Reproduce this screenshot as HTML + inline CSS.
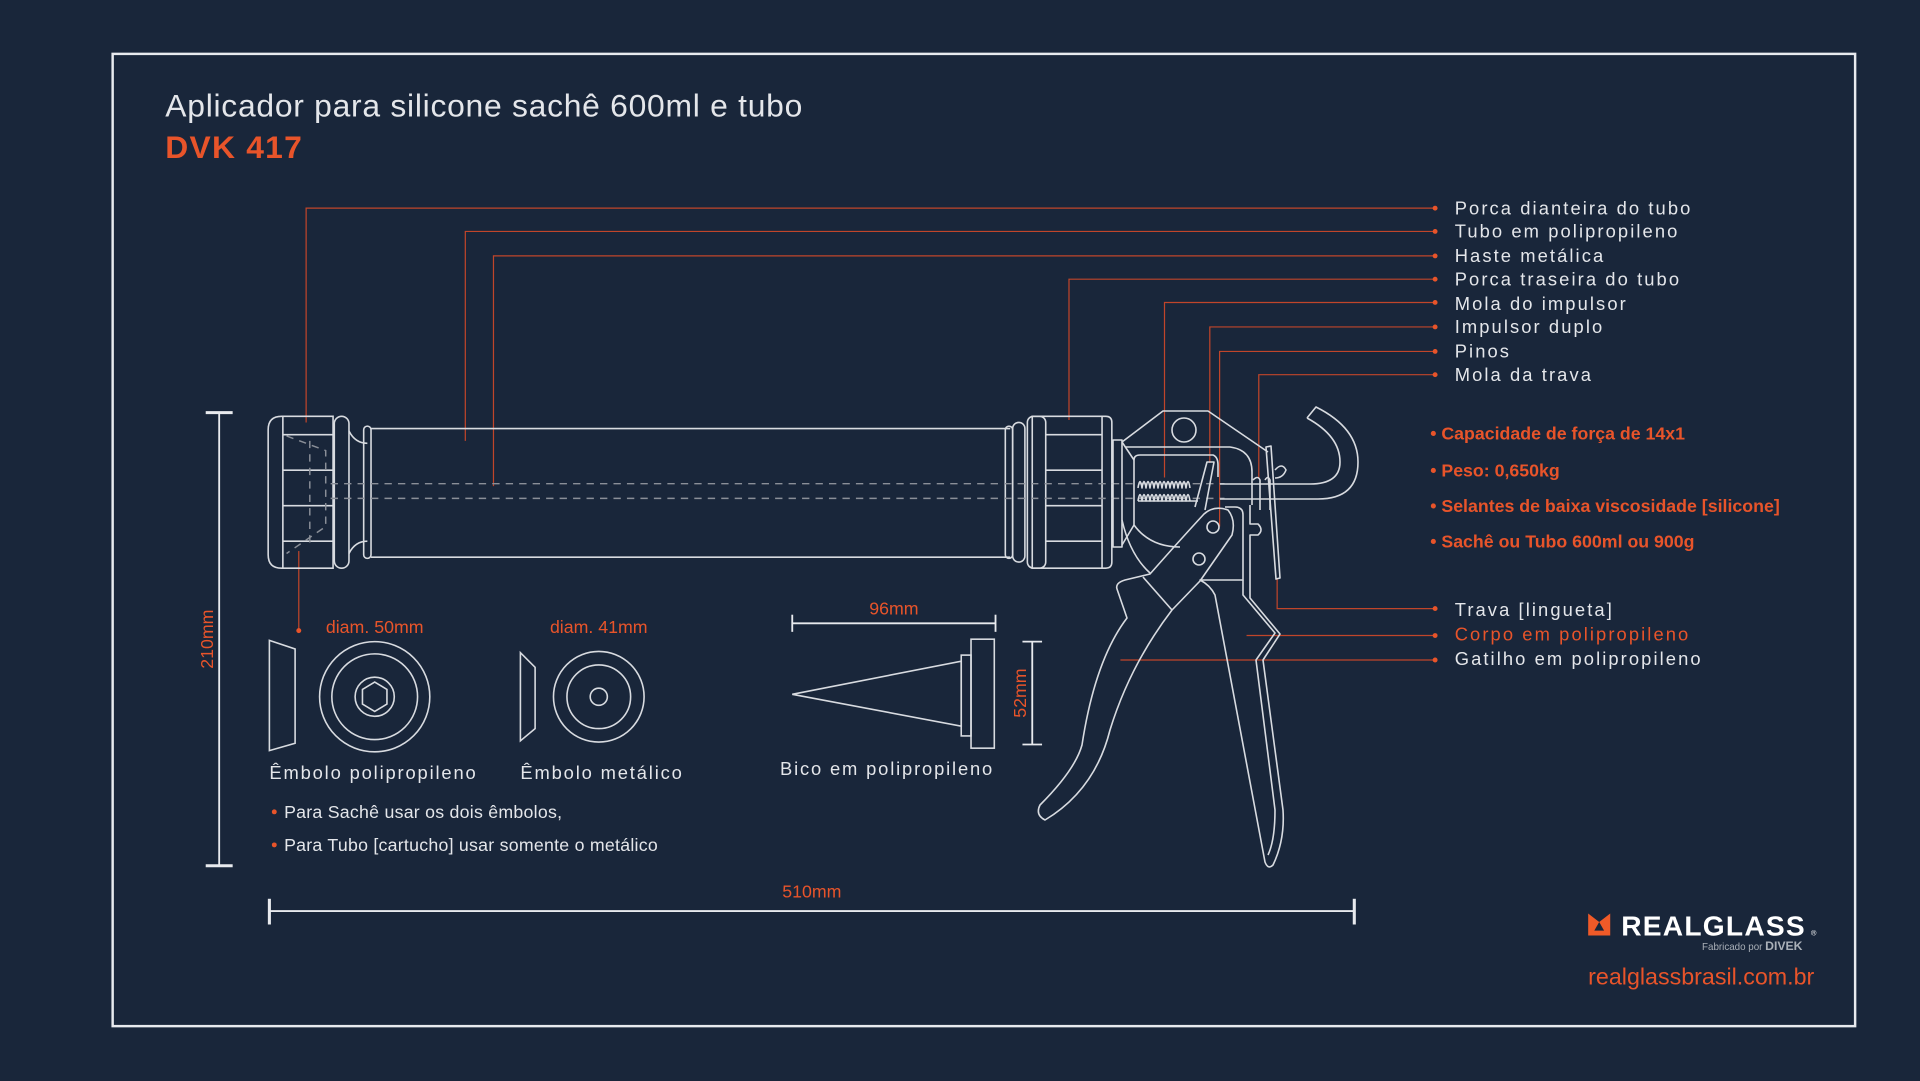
<!DOCTYPE html>
<html><head><meta charset="utf-8"><style>
html,body{margin:0;padding:0;background:#19263a;}
svg{display:block}
text{font-family:"Liberation Sans",sans-serif}
</style></head><body>
<svg width="1920" height="1081" viewBox="0 0 1920 1081" xmlns="http://www.w3.org/2000/svg">
<rect width="1920" height="1081" fill="#19263a"/>
<g transform="scale(1.2245)">
<rect x="92" y="44" width="1423" height="794" fill="none" stroke="#e8eaee" stroke-width="2"/>
<text x="135" y="95" font-size="26" fill="#e4e6ea" letter-spacing="0.6">Aplicador para silicone sachê 600ml e tubo</text>
<text x="135" y="129" font-size="26" font-weight="bold" fill="#e8542a" letter-spacing="1">DVK 417</text>

<g stroke="#c0452a" stroke-width="1" fill="none">
<polyline points="1172,170 250,170 250,345"/>
<polyline points="1172,189 380,189 380,360"/>
<polyline points="1172,209 403,209 403,397"/>
<polyline points="1172,228 873,228 873,343"/>
<polyline points="1172,247 951,247 951,390"/>
<polyline points="1172,267 988,267 988,378"/>
<polyline points="1172,287 996,287 996,430"/>
<polyline points="1172,306 1028,306 1028,390"/>
<polyline points="1172,497 1043,497 1043,472"/>
<polyline points="1172,519 1018,519"/>
<polyline points="1172,539 915,539"/>
<line x1="244" y1="450" x2="244" y2="515"/>
</g>
<g fill="#e8542a">
<circle cx="1172" cy="170" r="2"/><circle cx="1172" cy="189" r="2"/><circle cx="1172" cy="209" r="2"/><circle cx="1172" cy="228" r="2"/><circle cx="1172" cy="247" r="2"/><circle cx="1172" cy="267" r="2"/><circle cx="1172" cy="287" r="2"/><circle cx="1172" cy="306" r="2"/><circle cx="1172" cy="497" r="2"/><circle cx="1172" cy="519" r="2"/><circle cx="1172" cy="539" r="2"/><circle cx="244" cy="515" r="2"/>
</g>
<g font-size="15" fill="#e4e6ea" letter-spacing="1.7">
<text x="1188" y="175">Porca dianteira do tubo</text>
<text x="1188" y="194">Tubo em polipropileno</text>
<text x="1188" y="214">Haste metálica</text>
<text x="1188" y="233">Porca traseira do tubo</text>
<text x="1188" y="253">Mola do impulsor</text>
<text x="1188" y="272">Impulsor duplo</text>
<text x="1188" y="292">Pinos</text>
<text x="1188" y="311">Mola da trava</text>
<text x="1188" y="503">Trava [lingueta]</text>
<text x="1188" y="523" fill="#e8542a">Corpo em polipropileno</text>
<text x="1188" y="543">Gatilho em polipropileno</text>
</g>
<g font-size="14.5" fill="#e8542a" font-weight="bold">
<text x="1168" y="359">• Capacidade de força de 14x1</text>
<text x="1168" y="389">• Peso: 0,650kg</text>
<text x="1168" y="418">• Selantes de baixa viscosidade [silicone]</text>
<text x="1168" y="447">• Sachê ou Tubo 600ml ou 900g</text>
</g>

<g stroke="#d8dbe0" stroke-width="1.3" fill="none">
<path d="M272,340 L230,340 Q219,340 219,351 L219,453 Q219,464 230,464 L272,464 Z"/>
<line x1="231" y1="340" x2="231" y2="464"/>
<line x1="231" y1="355" x2="272" y2="355"/><line x1="231" y1="384" x2="272" y2="384"/><line x1="231" y1="413" x2="272" y2="413"/><line x1="231" y1="442" x2="272" y2="442"/>
<rect x="273" y="340" width="12" height="124" rx="6"/>
<path d="M285,352 Q290,362 300,362 M285,452 Q290,442 300,442"/>
<rect x="297" y="348" width="6" height="108" rx="3"/>
<line x1="303" y1="350" x2="825" y2="350"/><line x1="303" y1="455" x2="825" y2="455"/>
<rect x="821" y="348" width="6" height="108" rx="3"/>
<rect x="827" y="345" width="10" height="114" rx="5"/>
<path d="M843,340 L903,340 Q908,340 908,345 L908,459 Q908,464 903,464 L843,464 Z"/>
<rect x="839" y="340" width="15" height="124" rx="5"/>
<line x1="854" y1="355" x2="900" y2="355"/><line x1="854" y1="384" x2="900" y2="384"/><line x1="854" y1="413" x2="900" y2="413"/><line x1="854" y1="442" x2="900" y2="442"/>
<line x1="900" y1="340" x2="900" y2="464"/>
</g>
<g stroke="#8a8f98" stroke-width="1.2" stroke-dasharray="6,5" fill="none">
<line x1="270" y1="395" x2="1000" y2="395"/><line x1="270" y1="407" x2="1000" y2="407"/>
<path d="M234,356 L266,368 L266,430 L234,452 M253,360 L253,445"/>
</g>

<g stroke="#d8dbe0" stroke-width="1.3" fill="none">
<polygon points="220,523 241,530 241,607 220,613"/>
<circle cx="306" cy="569" r="45"/><circle cx="306" cy="569" r="35"/><circle cx="306" cy="569" r="16"/>
<polygon points="306,557 316,563 316,575 306,581 296,575 296,563"/>
<polygon points="425,533 437,545 437,595 425,605"/>
<circle cx="489" cy="569" r="37"/><circle cx="489" cy="569" r="26"/><circle cx="489" cy="569" r="7"/>
<polygon points="647,567 785,540 785,593"/>
<rect x="785" y="535" width="8" height="66"/>
<rect x="793" y="522" width="19" height="89"/>
</g>
<g stroke="#e8eaee" stroke-width="1.5" fill="none">
<line x1="647" y1="509" x2="813" y2="509"/><line x1="647" y1="502" x2="647" y2="516"/><line x1="813" y1="502" x2="813" y2="516"/>
<line x1="843" y1="524" x2="843" y2="608"/><line x1="835" y1="524" x2="851" y2="524"/><line x1="835" y1="608" x2="851" y2="608"/>
<line x1="179" y1="337" x2="179" y2="707"/><line x1="168" y1="337" x2="190" y2="337" stroke-width="2.5"/><line x1="168" y1="707" x2="190" y2="707" stroke-width="2.5"/>
<line x1="220" y1="744" x2="1106" y2="744"/><line x1="220" y1="734" x2="220" y2="755" stroke-width="2.5"/><line x1="1106" y1="734" x2="1106" y2="755" stroke-width="2.5"/>
</g>
<g font-size="14.5" fill="#e8542a" text-anchor="middle">
<text x="306" y="517">diam. 50mm</text>
<text x="489" y="517">diam. 41mm</text>
<text x="730" y="502">96mm</text>
<text x="663" y="733">510mm</text>
<text transform="translate(838,566) rotate(-90)">52mm</text>
<text transform="translate(174,522) rotate(-90)">210mm</text>
</g>
<g font-size="15" fill="#e4e6ea" letter-spacing="1.5">
<text x="220" y="636">Êmbolo polipropileno</text>
<text x="425" y="636">Êmbolo metálico</text>
<text x="637" y="633">Bico em polipropileno</text>
</g>
<g font-size="14.5" fill="#e4e6ea" letter-spacing="0.2">
<text x="232" y="668">Para Sachê usar os dois êmbolos,</text>
<text x="232" y="695">Para Tubo [cartucho] usar somente o metálico</text>
</g>
<circle cx="224" cy="663" r="2" fill="#e8542a"/><circle cx="224" cy="690" r="2" fill="#e8542a"/>

<polygon points="1297,746 1306,753 1315,746 1315,764 1297,764" fill="#f05a28"/>
<polygon points="1302,760 1306,753 1310,760" fill="#19263a"/>
<text x="1324" y="764" font-size="23" font-weight="bold" fill="#fff" letter-spacing="1">REALGLASS</text>
<text x="1479" y="764" font-size="6" fill="#fff">®</text>
<text x="1390" y="776" font-size="8" fill="#aab0b8">Fabricado por <tspan font-weight="bold" font-size="10">DIVEK</tspan></text>
<text x="1297" y="804" font-size="19" fill="#e8542a">realglassbrasil.com.br</text>
</g>

<g stroke="#d8dbe0" stroke-width="1.6" fill="none" stroke-linejoin="round">
<rect x="1113" y="440" width="9" height="107"/>
<path d="M1122,442 L1163,411 L1208,411 L1268,452"/>
<circle cx="1184" cy="430" r="12"/>
<path d="M1125,447 L1230,447 Q1252,450 1252,472 L1252,505"/>
<path d="M1134,460 Q1134,455 1140,455 L1213,455 Q1218,457 1218,465 L1218,477 M1134,460 L1134,525 Q1150,547 1180,547 M1122,520 Q1130,555 1150,573"/>
<path d="M1122,442 L1134,460 M1122,545 L1134,525"/>
<path d="M1138,488 Q1140,475 1142,488 Q1144,475 1146,488 Q1148,475 1150,488 Q1152,475 1154,488 Q1156,475 1158,488 Q1160,475 1162,488 Q1164,475 1166,488 Q1168,475 1170,488 Q1172,475 1174,488 Q1176,475 1178,488 Q1180,475 1182,488 Q1184,475 1186,488 Q1188,475 1190,488 M1138,501 Q1140,488 1142,501 Q1144,488 1146,501 Q1148,488 1150,501 Q1152,488 1154,501 Q1156,488 1158,501 Q1160,488 1162,501 Q1164,488 1166,501 Q1168,488 1170,501 Q1172,488 1174,501 Q1176,488 1178,501 Q1180,488 1182,501 Q1184,488 1186,501 Q1188,488 1190,501"/>
<line x1="1138" y1="501" x2="1198" y2="501"/>
<path d="M1195,507 L1207,462 L1214,462 L1205,510"/>
<line x1="1220" y1="484" x2="1310" y2="484"/><line x1="1220" y1="499" x2="1318" y2="499"/>
<path d="M1253,480 Q1258,475 1260,480 L1260,510 M1265,480 Q1268,475 1270,480 L1270,510"/>
<path d="M1307,418 L1316,407 Q1358,428 1358,462 Q1358,499 1318,499 M1307,418 Q1340,436 1340,462 Q1340,484 1310,484"/>
<path d="M1266,447 L1271,446 L1280,578 L1276,579 Z"/>
<path d="M1275,470 Q1282,462 1286,470 Q1283,478 1275,478"/>
<path d="M1204,514 Q1214,505 1228,510 Q1236,520 1232,535 L1200,581 L1172,610 Q1130,665 1110,730 Q1095,790 1045,820 Q1035,815 1040,805 Q1075,770 1082,745 Q1095,660 1127,618 L1117,589 Q1115,583 1125,580 L1150,574 Q1180,540 1204,514 Z"/>
<circle cx="1213" cy="527" r="6"/><circle cx="1199" cy="559" r="6"/>
<path d="M1143,577 L1172,610"/>
<path d="M1225,507 L1235,507 Q1243,507 1243,515 L1243,580 L1200,580 Q1210,585 1215,595 L1265,862 Q1268,870 1273,865 Q1285,840 1283,810 L1263,660 L1280,634 L1250,598 L1250,535 L1258,535 Q1264,530 1258,524 L1250,524 L1250,505"/>
<path d="M1243,580 L1243,595 L1275,633 L1256,660 L1275,810 Q1275,840 1268,855"/>
</g>
</svg>
</body></html>
